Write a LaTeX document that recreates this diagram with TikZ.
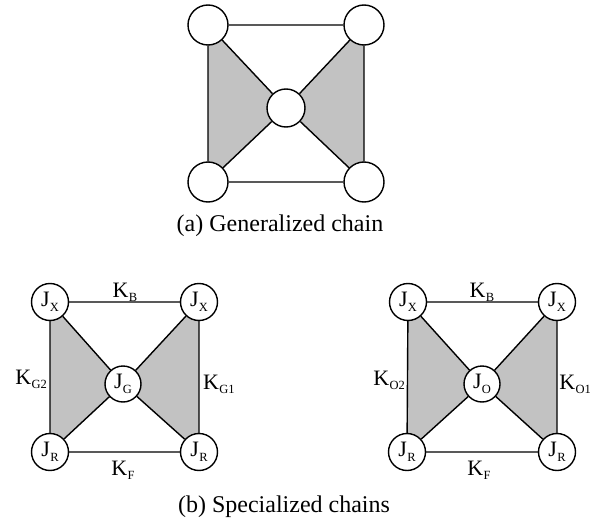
\documentclass[tikz,border=0pt]{standalone}
\usepackage{fontspec}
\setmainfont{Liberation Serif}
\usetikzlibrary{backgrounds}
\definecolor{linkgray}{gray}{0.76}
\newcommand{\lab}[2]{#1\kern0.3pt\raisebox{-4.5pt}{\fontsize{12.5}{12.5}\selectfont #2}}
\tikzset{
  jnt/.style={circle, draw=black, fill=white, line width=1.4pt, inner sep=0pt,
    minimum size=37pt, font=\fontsize{22}{22}\selectfont},
  bigjnt/.style={jnt, minimum size=40pt},
  lnk/.style={line width=1.4pt},
  klab/.style={inner sep=0pt, anchor=base, font=\fontsize{22}{22}\selectfont},
  caption/.style={inner sep=0pt, anchor=base, font=\fontsize{24}{24}\selectfont}
}
\begin{document}
\begin{tikzpicture}[x=1pt,y=-1pt]
\useasboundingbox (0,0) rectangle (592,519);
% (a) generalized chain
\node[bigjnt] (a1) at (208,25) {};
\node[bigjnt] (a2) at (364,25) {};
\node[bigjnt] (a3) at (208,182) {};
\node[bigjnt] (a4) at (364,182) {};
\node[bigjnt, minimum size=38pt] (a5) at (286,108) {};
\node[caption] (capa) at (280,231) {(a) Generalized chain};
% (b) left chain
\node[jnt] (g1) at (50,302) {\lab{J}{X}};
\node[jnt] (g2) at (199,302) {\lab{J}{X}};
\node[jnt] (g3) at (50,452) {\lab{J}{R}};
\node[jnt] (g4) at (199,452) {\lab{J}{R}};
\node[jnt, minimum size=36pt] (g5) at (123,384) {\lab{J}{G}};
\node[klab] (kb1) at (125,297) {\lab{K}{B}};
\node[klab] (kf1) at (123,475) {\lab{K}{F}};
\node[klab, anchor=base east] (kg2) at (47,384) {\lab{K}{G2}};
\node[klab, anchor=base west] (kg1) at (203,389) {\lab{K}{G1}};
% (b) right chain
\node[jnt] (o1) at (408,302) {\lab{J}{X}};
\node[jnt] (o2) at (557,302) {\lab{J}{X}};
\node[jnt] (o3) at (407,452) {\lab{J}{R}};
\node[jnt] (o4) at (557,452) {\lab{J}{R}};
\node[jnt, minimum size=36pt] (o5) at (482,384) {\lab{J}{O}};
\node[klab] (kb2) at (482,297) {\lab{K}{B}};
\node[klab] (kf2) at (479,475) {\lab{K}{F}};
\node[klab, anchor=base east] (ko2) at (405,385) {\lab{K}{O2}};
\node[klab, anchor=base east] (ko1) at (591,389) {\lab{K}{O1}};
\node[caption] (capb) at (284,512) {(b) Specialized chains};
\begin{scope}[on background layer]
\fill[linkgray] (a1.center)--(a3.center)--(a5.center)--cycle;
\fill[linkgray] (a2.center)--(a4.center)--(a5.center)--cycle;
\fill[linkgray] (g1.center)--(g3.center)--(g5.center)--cycle;
\fill[linkgray] (g2.center)--(g4.center)--(g5.center)--cycle;
\fill[linkgray] (o1.center)--(o3.center)--(o5.center)--cycle;
\fill[linkgray] (o2.center)--(o4.center)--(o5.center)--cycle;
\draw[lnk] (a1)--(a2) (a3)--(a4) (a1)--(a3) (a2)--(a4)
  (a1)--(a5) (a3)--(a5) (a2)--(a5) (a4)--(a5);
\draw[lnk] (g1)--(g2) (g3)--(g4) (g1)--(g3) (g2)--(g4)
  (g1)--(g5) (g3)--(g5) (g2)--(g5) (g4)--(g5);
\draw[lnk] (o1)--(o2) (o3)--(o4) (o1)--(o3) (o2)--(o4)
  (o1)--(o5) (o3)--(o5) (o2)--(o5) (o4)--(o5);
\end{scope}
\end{tikzpicture}
\end{document}
